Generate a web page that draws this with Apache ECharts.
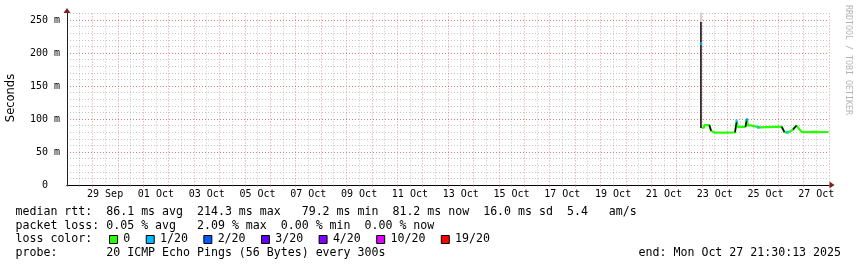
<!DOCTYPE html>
<html><head><meta charset="utf-8">
<script src="https://cdn.jsdelivr.net/npm/echarts@6/dist/echarts.min.js"></script>
<style>html,body{margin:0;padding:0;background:#fff}#c{width:857px;height:267px}</style>
</head><body><div id="c"></div>
<script>
// ---- data (time in hours since 28 Sep 2025 00:00) ----
const xLabels = ['29 Sep','01 Oct','03 Oct','05 Oct','07 Oct','09 Oct','11 Oct','13 Oct','15 Oct','17 Oct','19 Oct','21 Oct','23 Oct','25 Oct','27 Oct'];
const yLabels = ['0  ','50 m','100 m','150 m','200 m','250 m'];

const medianTime  = [599.7,601.9,602.2,606.9,608.6,610.3,611.6,621.8,622.6,631.2,632.3,632.9,633.7,641.1,642.4,643.3,645.6,646.3,654.8,655.7,675.3,677.9,681.2,683.1,686.0,689.3,690.8,694.1,697.4,706.8,712.0,719.7];
const medianValue = [86.5,87.0,90.8,90.8,82.0,81.8,79.5,79.3,79.8,79.8,92.0,96.0,88.2,88.2,100.0,90.4,90.4,87.4,87.4,88.3,88.3,80.0,79.8,81.0,84.0,90.0,89.5,80.5,80.2,80.5,80.0,80.3];

const smokeTime = [599.7,602.0,606.9,609.0,611.6,621.8,631.2,632.6,633.7,641.1,642.4,643.5,646.3,654.8,655.7,665.0,675.3,677.9,681.2,686.0,689.3,690.8,694.1,700.0,706.8,710.0,713.0,716.0,719.7];
const smokeLow  = [85.5,86.0,89.5,81.0,78.5,78.5,79.0,90.0,87.0,87.0,95.0,89.0,86.5,86.5,87.5,87.5,87.5,79.0,79.0,82.0,88.5,88.0,79.5,79.5,79.5,79.5,79.5,79.5,79.5];
const smokeHigh = [88.0,92.5,92.5,84.0,84.5,84.0,82.5,99.0,93.0,93.0,104.0,92.0,91.0,90.5,92.5,93.0,92.0,88.0,90.0,90.0,94.0,92.0,84.0,82.5,84.0,86.0,86.0,82.5,83.0];

const spikeTime = 599.0;
const spikeDark = [86.5, 247];
const spikeSmoke = [247, 266];

const darkSegments = [
  [[606.9,90.8],[608.6,82.0]],
  [[631.2,79.8],[632.3,92.0],[632.9,96.0]],
  [[641.1,88.2],[642.4,100.0]],
  [[675.3,88.3],[677.9,80.0]],
  [[686.0,84.0],[689.3,90.0]]
];

const lossTime  = [599.0,632.7,642.6,653.2,680.5];
const lossValue = [214.3,97.0,99.0,87.4,79.8];

const lossLabels = ['0','1/20','2/20','3/20','4/20','10/20','19/20'];
const lossColors = ['#26ff00','#00b8ff','#0059ff','#5e00ff','#7e00ff','#dd00ff','#ff0000'];

const statLines = [
  'median rtt:  86.1 ms avg  214.3 ms max   79.2 ms min  81.2 ms now  16.0 ms sd  5.4   am/s',
  'packet loss: 0.05 % avg   2.09 % max  0.00 % min  0.00 % now',
  'loss color:',
  'probe:       20 ICMP Echo Pings (56 Bytes) every 300s'
];
const endText = 'end: Mon Oct 27 21:30:13 2025';
const yTitle = 'Seconds';
const watermark = 'RRDTOOL / TOBI OETIKER';

// ---- chart ----
const MONO = '"DejaVu Sans Mono", monospace';
const LSIZE = 11.6;
const GRID = 'rgba(143,143,143,0.5)';
const MGRID = 'rgba(222,79,79,0.6)';
const ARROW = '#801f1f';
const DASH = [1,2];
const SMOKE = '#c4c4c4';
const zip = (a, b) => a.map((v, i) => [v, b[i]]);

const cvs = document.createElement('canvas').getContext('2d');
cvs.font = LSIZE + 'px ' + MONO;
const adv = cvs.measureText('0').width;

const textX = 15.5;
const lineY = [212, 225.5, 239, 252.5];
const graphics = [];
statLines.forEach((t, i) => graphics.push({type:'text', x:textX, y:lineY[i],
  style:{text:t, font:LSIZE+'px '+MONO, fill:'#000', verticalAlign:'middle', textVerticalAlign:'middle'}}));
graphics.push({type:'text', x:841, y:lineY[3],
  style:{text:endText, font:LSIZE+'px '+MONO, fill:'#000', align:'right', textAlign:'right', verticalAlign:'middle', textVerticalAlign:'middle'}});
let cx = textX + 13*adv + 2.8;
lossLabels.forEach((lab, i) => {
  graphics.push({type:'rect', shape:{x:cx+0.5, y:235.5, width:8, height:8}, style:{fill:lossColors[i], stroke:'#000', lineWidth:1}});
  graphics.push({type:'text', x:cx+14.3, y:lineY[2], style:{text:lab, font:LSIZE+'px '+MONO, fill:'#000', verticalAlign:'middle', textVerticalAlign:'middle'}});
  cx += 14.3 + lab.length*adv + 15.4;
});
graphics.push({type:'text', x:11, y:98, rotation:Math.PI/2,
  style:{text:yTitle, font:'11.5px "DejaVu Sans", sans-serif', fill:'#000', align:'center', textAlign:'center', verticalAlign:'middle', textVerticalAlign:'middle'}});
graphics.push({type:'text', x:848, y:60, rotation:-Math.PI/2,
  style:{text:watermark, font:'8.3px '+MONO, fill:'#b4b4b4', align:'center', textAlign:'center', verticalAlign:'middle', textVerticalAlign:'middle'}});

const chart = echarts.init(document.getElementById('c'), null, {renderer:'canvas'});
chart.setOption({
  backgroundColor:'#ffffff',
  animation:false,
  grid:{left:67, right:28, top:13.4, bottom:82, containLabel:false, outerBoundsMode:'none'},
  xAxis:[
    {type:'value', min:0, max:720, interval:24, position:'bottom', z:3,
     axisLine:{show:true, onZero:false, lineStyle:{color:'#000', width:1}},
     axisTick:{show:true, length:2, lineStyle:{color:MGRID}},
     minorTick:{show:true, splitNumber:2, length:2, lineStyle:{color:GRID}},
     axisLabel:{fontFamily:MONO, fontSize:10, color:'#000', margin:4, padding:[0,0,0,25.4],
       formatter:v => { const k = Math.round(v/24); return (k % 2 === 1) ? xLabels[(k-1)/2] : ''; }},
     splitLine:{show:true, lineStyle:{color:MGRID, type:DASH, width:1}},
     minorSplitLine:{show:true, lineStyle:{color:GRID, type:DASH, width:1}}},
    {type:'value', min:0, max:720, position:'bottom', z:1,
     axisLine:{show:true, onZero:false, symbol:['none','triangle'], symbolSize:[7,5], symbolOffset:[0,3], lineStyle:{color:ARROW}},
     axisTick:{show:false}, axisLabel:{show:false}, splitLine:{show:false}}
  ],
  yAxis:[
    {type:'value', min:0, max:260, interval:50, position:'left', z:3,
     axisLine:{show:true, onZero:false, lineStyle:{color:'#1f1f1f'}},
     axisTick:{show:false},
     axisLabel:{fontFamily:MONO, fontSize:10, color:'#000', margin:7,
       formatter:v => { const i = Math.round(v/50); return (v % 50 === 0 && i < yLabels.length) ? yLabels[i] : ''; }},
     splitLine:{show:true, showMaxLine:false, lineStyle:{color:MGRID, type:DASH, width:1}}},
    {type:'value', min:0, max:260, interval:10, position:'left', z:2,
     axisLine:{show:true, onZero:false, symbol:['none','triangle'], symbolSize:[7,5], symbolOffset:[0,3], lineStyle:{color:ARROW}},
     axisTick:{show:false}, axisLabel:{show:false},
     splitLine:{show:true, lineStyle:{color:GRID, type:DASH, width:1}}}
  ],
  series:[
    {type:'line', xAxisIndex:0, yAxisIndex:0, stack:'smoke', symbol:'none', silent:true, z:5,
     data:zip(smokeTime, smokeLow), lineStyle:{opacity:0}},
    {type:'line', xAxisIndex:0, yAxisIndex:0, stack:'smoke', symbol:'none', silent:true, z:5,
     data:zip(smokeTime, smokeHigh.map((h,i)=>h-smokeLow[i])), lineStyle:{opacity:0}, areaStyle:{color:SMOKE, opacity:1}},
    {type:'line', xAxisIndex:0, yAxisIndex:0, symbol:'none', silent:true, z:6,
     data:[[spikeTime, spikeSmoke[0]],[spikeTime, spikeSmoke[1]]], lineStyle:{color:SMOKE, width:1.5}},
    {type:'line', xAxisIndex:0, yAxisIndex:0, symbol:'none', silent:true, z:7,
     data:zip(medianTime, medianValue), lineStyle:{color:lossColors[0], width:2.2}},
    {type:'line', xAxisIndex:0, yAxisIndex:0, symbol:'none', silent:true, z:8,
     data:[[spikeTime, spikeDark[0]],[spikeTime, spikeDark[1]]], lineStyle:{color:'#000', width:1.5}},
    {type:'lines', coordinateSystem:'cartesian2d', xAxisIndex:0, yAxisIndex:0, polyline:true, silent:true, z:8,
     data:darkSegments.map(c => ({coords:c})), lineStyle:{color:'#000', width:1.5, opacity:1}},
    {type:'scatter', xAxisIndex:0, yAxisIndex:0, symbol:'rect', symbolSize:[2.5,3], silent:true, z:9,
     data:zip(lossTime, lossValue), itemStyle:{color:lossColors[1]}}
  ],
  graphic:graphics
});
</script></body></html>
